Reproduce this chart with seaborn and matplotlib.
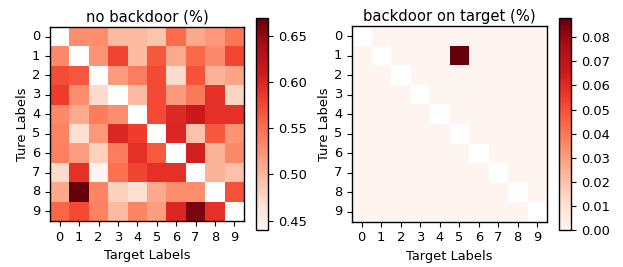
import numpy as np
import pandas as pd
import matplotlib
matplotlib.use("Agg")
import matplotlib.pyplot as plt
import seaborn as sns

labels = [str(i) for i in range(10)]

no_backdoor = [
    [np.nan, 0.530, 0.530, 0.498, 0.498, 0.490, 0.553, 0.510, 0.523, 0.545],
    [0.532, np.nan, 0.525, 0.578, 0.498, 0.566, 0.510, 0.555, 0.532, 0.576],
    [0.573, 0.567, np.nan, 0.520, 0.541, 0.575, 0.472, 0.569, 0.502, 0.514],
    [0.583, 0.530, 0.472, np.nan, 0.498, 0.575, 0.521, 0.544, 0.592, 0.477],
    [0.532, 0.509, 0.541, 0.530, np.nan, 0.575, 0.597, 0.612, 0.592, 0.592],
    [0.537, 0.469, 0.523, 0.600, 0.583, np.nan, 0.600, 0.493, 0.566, 0.525],
    [0.539, 0.518, 0.481, 0.541, 0.592, 0.565, np.nan, 0.607, 0.502, 0.532],
    [0.472, 0.592, 0.440, 0.550, 0.578, 0.592, 0.592, np.nan, 0.502, 0.493],
    [0.510, 0.669, 0.536, 0.481, 0.468, 0.510, 0.530, 0.530, np.nan, 0.569],
    [0.557, 0.575, 0.537, 0.498, 0.536, 0.518, 0.600, 0.660, 0.592, np.nan],
]

backdoor_on_target = [
    [np.nan, 0, 0, 0, 0, 0, 0, 0, 0, 0],
    [0, np.nan, 0, 0, 0, 0.088, 0, 0, 0, 0],
    [0, 0, np.nan, 0, 0, 0, 0, 0, 0, 0],
    [0, 0, 0, np.nan, 0, 0, 0, 0, 0, 0],
    [0, 0, 0, 0, np.nan, 0, 0, 0, 0, 0],
    [0, 0, 0, 0, 0, np.nan, 0, 0, 0, 0],
    [0, 0, 0, 0, 0, 0, np.nan, 0, 0, 0],
    [0, 0, 0, 0, 0, 0, 0, np.nan, 0, 0],
    [0, 0, 0, 0, 0, 0, 0, 0, np.nan, 0],
    [0, 0, 0, 0, 0, 0, 0, 0, 0, np.nan],
]

titles = ["no backdoor (%)", "backdoor on target (%)"]
xlabel = "Target Labels"
ylabel = "Ture Labels"

W, H = 623, 267
fig = plt.figure(figsize=(W / 100, H / 100), dpi=100)

def px_axes(x, y, w, h):
    return fig.add_axes([x / W, (H - y - h) / H, w / W, h / H])

specs = [
    (no_backdoor, titles[0], (50, 18, 194, 212), (256, 18, 12, 212), None),
    (backdoor_on_target, titles[1], (352, 18, 195, 212), (559, 18, 12, 212),
     [0.00, 0.01, 0.02, 0.03, 0.04, 0.05, 0.06, 0.07, 0.08]),
]

for data, title, axr, cbr, cticks in specs:
    df = pd.DataFrame(data, index=labels, columns=labels)
    ax = px_axes(*axr)
    cax = px_axes(*cbr)
    sns.heatmap(df, ax=ax, cbar_ax=cax, cmap="Reds", square=True,
                mask=df.isna(), xticklabels=labels, yticklabels=labels)
    for s in ax.spines.values():
        s.set_visible(True)
        s.set_color("black")
        s.set_linewidth(1.0)
    ax.set_title(title, fontsize=10.6, pad=4)
    ax.set_xlabel(xlabel, fontsize=9.4)
    ax.set_ylabel(ylabel, fontsize=9.4, labelpad=2)
    ax.tick_params(axis="both", labelsize=9.4, length=3.5, width=0.8)
    plt.setp(ax.get_yticklabels(), rotation=0)
    plt.setp(ax.get_xticklabels(), rotation=0)
    cbar = ax.collections[0].colorbar
    cbar.outline.set_visible(True)
    cbar.outline.set_edgecolor("black")
    cbar.outline.set_linewidth(1.0)
    if cticks is not None:
        cbar.set_ticks(cticks)
        cbar.set_ticklabels([f"{t:.2f}" for t in cticks])
    cax.tick_params(labelsize=9.4, length=3.5, width=0.8)

fig.savefig("out.png", dpi=100, facecolor="white")
